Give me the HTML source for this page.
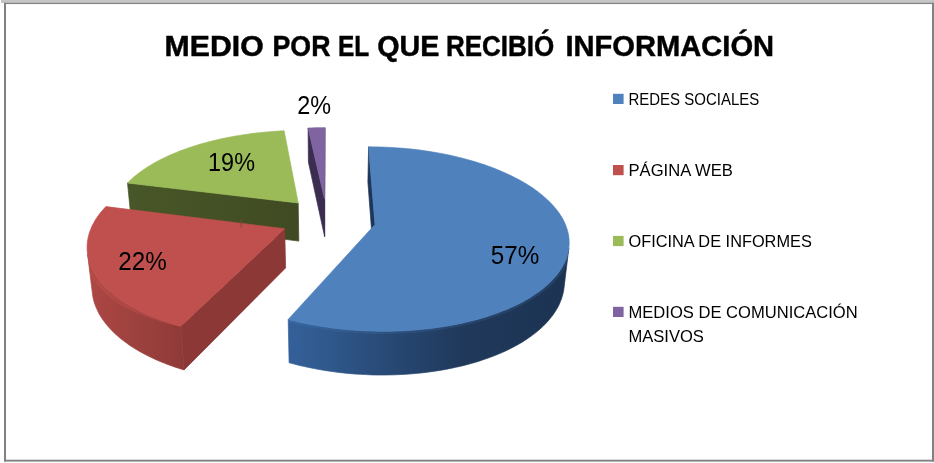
<!DOCTYPE html>
<html lang="es"><head><meta charset="utf-8"><title>Medio por el que recibió información</title>
<style>
html,body{margin:0;padding:0;background:#fff;}
body{width:934px;height:463px;overflow:hidden;font-family:"Liberation Sans",Arial,sans-serif;}
svg{display:block;}
svg text{font-family:"Liberation Sans",Arial,sans-serif;fill:#000;}
</style></head><body>
<svg width="934" height="463" viewBox="0 0 934 463">
<defs>
<linearGradient id="gb" gradientUnits="userSpaceOnUse" x1="288" y1="0" x2="569" y2="0">
<stop offset="0" stop-color="#34609a"/><stop offset="0.15" stop-color="#2f588b"/><stop offset="0.4" stop-color="#264670"/><stop offset="0.62" stop-color="#20395b"/><stop offset="1" stop-color="#1c3352"/>
</linearGradient>
<linearGradient id="gr" gradientUnits="userSpaceOnUse" x1="87" y1="0" x2="186" y2="0">
<stop offset="0" stop-color="#ad4744"/><stop offset="0.5" stop-color="#9d413e"/><stop offset="1" stop-color="#8f3a38"/>
</linearGradient>
<linearGradient id="gg" gradientUnits="userSpaceOnUse" x1="128" y1="0" x2="298" y2="0">
<stop offset="0" stop-color="#485727"/><stop offset="1" stop-color="#404a23"/>
</linearGradient>
<clipPath id="cwr"><path d="M180.7 326.3 L175.7 324.9 L170.9 323.4 L166.1 321.8 L161.4 320.2 L156.9 318.5 L152.5 316.7 L148.2 314.9 L144.1 313.0 L140.0 311.0 L136.2 309.1 L132.4 307.0 L128.8 304.9 L125.4 302.8 L122.0 300.6 L118.9 298.4 L115.9 296.2 L113.0 293.9 L110.3 291.5 L107.7 289.2 L105.3 286.8 L103.0 284.4 L100.9 282.0 L98.9 279.5 L97.1 277.1 L95.5 274.6 L94.0 272.1 L92.6 269.6 L91.4 267.0 L90.4 264.5 L89.5 262.0 L88.7 259.5 L88.1 256.9 L87.6 254.4 L92.6 294.9 L93.0 297.5 L93.6 300.2 L94.4 302.8 L95.3 305.5 L96.4 308.1 L97.6 310.7 L98.9 313.4 L100.4 316.0 L102.0 318.6 L103.8 321.1 L105.8 323.7 L107.9 326.2 L110.1 328.7 L112.5 331.2 L115.0 333.7 L117.7 336.1 L120.5 338.5 L123.5 340.8 L126.6 343.1 L129.8 345.4 L133.2 347.6 L136.8 349.8 L140.5 351.9 L144.3 354.0 L148.2 356.0 L152.3 358.0 L156.5 359.9 L160.8 361.7 L165.2 363.5 L169.8 365.2 L174.5 366.9 L179.2 368.4 L184.1 369.9Z"/></clipPath>
<clipPath id="cwb"><path d="M568.8 248.5 L568.4 251.0 L567.8 253.4 L567.1 255.9 L566.3 258.4 L565.3 260.8 L564.2 263.3 L562.9 265.7 L561.5 268.2 L560.0 270.6 L558.2 273.0 L556.4 275.4 L554.3 277.8 L552.2 280.1 L549.9 282.5 L547.4 284.8 L544.8 287.0 L542.0 289.3 L539.1 291.5 L536.1 293.6 L532.8 295.8 L529.5 297.9 L526.0 299.9 L522.4 301.9 L518.6 303.9 L514.7 305.8 L510.7 307.6 L506.6 309.4 L502.3 311.1 L497.9 312.8 L493.3 314.4 L488.7 316.0 L484.0 317.5 L479.1 318.9 L474.1 320.3 L469.1 321.5 L463.9 322.7 L458.7 323.9 L453.3 324.9 L447.9 325.9 L442.4 326.8 L436.9 327.6 L431.3 328.4 L425.6 329.0 L419.9 329.6 L414.1 330.1 L408.3 330.5 L402.5 330.8 L396.6 331.0 L390.7 331.2 L384.8 331.2 L378.9 331.2 L373.0 331.1 L367.1 330.9 L361.2 330.6 L355.3 330.2 L349.4 329.8 L343.6 329.2 L337.8 328.6 L332.1 327.9 L326.3 327.1 L320.7 326.2 L315.1 325.3 L309.6 324.3 L304.1 323.2 L298.7 322.0 L293.4 320.7 L288.2 319.4 L289.1 362.7 L294.2 364.1 L299.4 365.4 L304.7 366.6 L310.0 367.7 L315.4 368.8 L320.9 369.8 L326.4 370.7 L332.0 371.5 L337.6 372.3 L343.2 372.9 L348.9 373.5 L354.7 374.0 L360.4 374.3 L366.2 374.6 L371.9 374.9 L377.7 375.0 L383.5 375.0 L389.3 374.9 L395.0 374.8 L400.8 374.5 L406.5 374.2 L412.1 373.8 L417.8 373.3 L423.4 372.7 L428.9 372.0 L434.4 371.2 L439.8 370.4 L445.2 369.5 L450.5 368.4 L455.7 367.3 L460.8 366.2 L465.9 364.9 L470.8 363.6 L475.7 362.2 L480.4 360.7 L485.1 359.1 L489.6 357.5 L494.1 355.8 L498.4 354.1 L502.6 352.3 L506.7 350.4 L510.6 348.5 L514.4 346.5 L518.1 344.5 L521.7 342.4 L525.1 340.2 L528.4 338.1 L531.5 335.8 L534.5 333.6 L537.4 331.3 L540.1 328.9 L542.7 326.6 L545.1 324.2 L547.4 321.8 L549.5 319.3 L551.5 316.8 L553.4 314.3 L555.1 311.8 L556.6 309.3 L558.1 306.7 L559.3 304.2 L560.4 301.6 L561.4 299.0 L562.2 296.5 L562.9 293.9 L563.5 291.3 L563.9 288.7Z"/></clipPath>
</defs>
<rect x="0" y="0" width="934" height="463" fill="#fff"/>
<rect x="1" y="0" width="933" height="3" fill="#c6c6c6"/>
<g fill="#828282"><rect x="4" y="2.8" width="930" height="1.25"/><rect x="4" y="2.8" width="2" height="458.8"/><rect x="932" y="2.8" width="2" height="458.8"/><rect x="4" y="459.7" width="930" height="1.9"/></g>
<g id="pie">
<path d="M298.2 203.0 L127.5 183.0 L131.2 220.0 L298.8 241.1Z" fill="url(#gg)" stroke="url(#gg)" stroke-width="0.7" stroke-linejoin="round"/>
<path d="M298.2 203.0 L127.5 183.0 L129.4 181.1 L131.4 179.2 L133.5 177.3 L135.7 175.5 L138.0 173.7 L140.3 171.9 L142.8 170.2 L145.3 168.5 L147.9 166.8 L150.6 165.2 L153.3 163.5 L156.1 162.0 L159.0 160.4 L161.9 158.9 L165.0 157.5 L168.0 156.0 L171.2 154.6 L174.4 153.3 L177.6 151.9 L180.9 150.6 L184.3 149.4 L187.7 148.2 L191.2 147.0 L194.7 145.9 L198.2 144.8 L201.8 143.7 L205.5 142.7 L209.1 141.7 L212.9 140.8 L216.6 139.9 L220.4 139.0 L224.2 138.2 L228.1 137.4 L231.9 136.7 L235.8 136.0 L239.8 135.4 L243.7 134.7 L247.7 134.2 L251.7 133.6 L255.7 133.1 L259.7 132.7 L263.7 132.3 L267.8 131.9 L271.9 131.6 L275.9 131.3 L280.0 131.0 L284.1 130.8Z" fill="#9bbb59" stroke="#9bbb59" stroke-width="0.7" stroke-linejoin="round"/>
<path d="M324.5 198.8 L308.1 128.0 L308.4 162.1 L324.6 236.6Z" fill="#3b2d50" stroke="#3b2d50" stroke-width="0.7" stroke-linejoin="round"/>
<path d="M324.5 198.8 L324.9 127.7 L324.9 161.8 L324.6 236.6Z" fill="#3b2d50" stroke="#3b2d50" stroke-width="0.7" stroke-linejoin="round"/>
<path d="M324.5 198.8 L308.1 128.0 L311.4 127.9 L314.8 127.8 L318.2 127.7 L321.5 127.7 L324.9 127.7Z" fill="#8064a2" stroke="#8064a2" stroke-width="0.7" stroke-linejoin="round"/>
<path d="M284.7 228.7 L180.7 326.3 L184.1 369.9 L285.6 267.9Z" fill="#8b3836" stroke="#8b3836" stroke-width="0.7" stroke-linejoin="round"/>
<path d="M180.7 326.3 L175.7 324.9 L170.9 323.4 L166.1 321.8 L161.4 320.2 L156.9 318.5 L152.5 316.7 L148.2 314.9 L144.1 313.0 L140.0 311.0 L136.2 309.1 L132.4 307.0 L128.8 304.9 L125.4 302.8 L122.0 300.6 L118.9 298.4 L115.9 296.2 L113.0 293.9 L110.3 291.5 L107.7 289.2 L105.3 286.8 L103.0 284.4 L100.9 282.0 L98.9 279.5 L97.1 277.1 L95.5 274.6 L94.0 272.1 L92.6 269.6 L91.4 267.0 L90.4 264.5 L89.5 262.0 L88.7 259.5 L88.1 256.9 L87.6 254.4 L92.6 294.9 L93.0 297.5 L93.6 300.2 L94.4 302.8 L95.3 305.5 L96.4 308.1 L97.6 310.7 L98.9 313.4 L100.4 316.0 L102.0 318.6 L103.8 321.1 L105.8 323.7 L107.9 326.2 L110.1 328.7 L112.5 331.2 L115.0 333.7 L117.7 336.1 L120.5 338.5 L123.5 340.8 L126.6 343.1 L129.8 345.4 L133.2 347.6 L136.8 349.8 L140.5 351.9 L144.3 354.0 L148.2 356.0 L152.3 358.0 L156.5 359.9 L160.8 361.7 L165.2 363.5 L169.8 365.2 L174.5 366.9 L179.2 368.4 L184.1 369.9Z" fill="url(#gr)" stroke="url(#gr)" stroke-width="0.7" stroke-linejoin="round"/>
<path d="M180.7 326.3 L175.7 324.9 L170.9 323.4 L166.1 321.8 L161.4 320.2 L156.9 318.5 L152.5 316.7 L148.2 314.9 L144.1 313.0 L140.0 311.0 L136.2 309.1 L132.4 307.0 L128.8 304.9 L125.4 302.8 L122.0 300.6 L118.9 298.4 L115.9 296.2 L113.0 293.9 L110.3 291.5 L107.7 289.2 L105.3 286.8 L103.0 284.4 L100.9 282.0 L98.9 279.5 L97.1 277.1 L95.5 274.6 L94.0 272.1 L92.6 269.6 L91.4 267.0 L90.4 264.5 L89.5 262.0 L88.7 259.5 L88.1 256.9 L87.6 254.4 L87.6 266.4 L88.1 268.9 L88.7 271.5 L89.5 274.0 L90.4 276.5 L91.4 278.3 L92.6 279.7 L94.0 281.4 L95.5 283.2 L97.1 285.1 L98.9 287.1 L100.9 289.1 L103.0 291.3 L105.3 293.4 L107.7 295.5 L110.3 297.7 L113.0 299.8 L115.9 302.0 L118.9 304.1 L122.0 306.0 L125.4 307.7 L128.8 309.5 L132.4 311.2 L136.2 312.9 L140.0 314.5 L144.1 316.1 L148.2 317.6 L152.5 319.1 L156.9 320.5 L161.4 321.9 L166.1 323.2 L170.9 324.4 L175.7 325.5 L180.7 326.3Z" fill="#c0504d" fill-opacity="0.42" clip-path="url(#cwr)"/>
<path d="M284.7 228.7 L180.7 326.3 L175.7 324.9 L170.9 323.4 L166.1 321.8 L161.4 320.2 L156.9 318.5 L152.5 316.7 L148.2 314.9 L144.1 313.0 L140.0 311.0 L136.2 309.1 L132.4 307.0 L128.8 304.9 L125.4 302.8 L122.0 300.6 L118.9 298.4 L115.9 296.2 L113.0 293.9 L110.3 291.5 L107.7 289.2 L105.3 286.8 L103.0 284.4 L100.9 282.0 L98.9 279.5 L97.1 277.1 L95.5 274.6 L94.0 272.1 L92.6 269.6 L91.4 267.0 L90.4 264.5 L89.5 262.0 L88.7 259.5 L88.1 256.9 L87.6 254.4 L87.3 251.9 L87.1 249.3 L87.1 246.8 L87.2 244.3 L87.4 241.8 L87.8 239.3 L88.3 236.9 L88.9 234.4 L89.7 232.0 L90.6 229.5 L91.6 227.1 L92.7 224.7 L94.0 222.4 L95.3 220.0 L96.8 217.7 L98.4 215.4 L100.1 213.2 L101.9 211.0 L103.9 208.8 L105.9 206.6Z" fill="#c0504d" stroke="#c0504d" stroke-width="0.7" stroke-linejoin="round"/>
<path d="M375.0 224.5 L368.6 146.8 L367.9 182.0 L374.1 263.6Z" fill="#1d3557" stroke="#1d3557" stroke-width="0.7" stroke-linejoin="round"/>
<path d="M568.8 248.5 L568.4 251.0 L567.8 253.4 L567.1 255.9 L566.3 258.4 L565.3 260.8 L564.2 263.3 L562.9 265.7 L561.5 268.2 L560.0 270.6 L558.2 273.0 L556.4 275.4 L554.3 277.8 L552.2 280.1 L549.9 282.5 L547.4 284.8 L544.8 287.0 L542.0 289.3 L539.1 291.5 L536.1 293.6 L532.8 295.8 L529.5 297.9 L526.0 299.9 L522.4 301.9 L518.6 303.9 L514.7 305.8 L510.7 307.6 L506.6 309.4 L502.3 311.1 L497.9 312.8 L493.3 314.4 L488.7 316.0 L484.0 317.5 L479.1 318.9 L474.1 320.3 L469.1 321.5 L463.9 322.7 L458.7 323.9 L453.3 324.9 L447.9 325.9 L442.4 326.8 L436.9 327.6 L431.3 328.4 L425.6 329.0 L419.9 329.6 L414.1 330.1 L408.3 330.5 L402.5 330.8 L396.6 331.0 L390.7 331.2 L384.8 331.2 L378.9 331.2 L373.0 331.1 L367.1 330.9 L361.2 330.6 L355.3 330.2 L349.4 329.8 L343.6 329.2 L337.8 328.6 L332.1 327.9 L326.3 327.1 L320.7 326.2 L315.1 325.3 L309.6 324.3 L304.1 323.2 L298.7 322.0 L293.4 320.7 L288.2 319.4 L289.1 362.7 L294.2 364.1 L299.4 365.4 L304.7 366.6 L310.0 367.7 L315.4 368.8 L320.9 369.8 L326.4 370.7 L332.0 371.5 L337.6 372.3 L343.2 372.9 L348.9 373.5 L354.7 374.0 L360.4 374.3 L366.2 374.6 L371.9 374.9 L377.7 375.0 L383.5 375.0 L389.3 374.9 L395.0 374.8 L400.8 374.5 L406.5 374.2 L412.1 373.8 L417.8 373.3 L423.4 372.7 L428.9 372.0 L434.4 371.2 L439.8 370.4 L445.2 369.5 L450.5 368.4 L455.7 367.3 L460.8 366.2 L465.9 364.9 L470.8 363.6 L475.7 362.2 L480.4 360.7 L485.1 359.1 L489.6 357.5 L494.1 355.8 L498.4 354.1 L502.6 352.3 L506.7 350.4 L510.6 348.5 L514.4 346.5 L518.1 344.5 L521.7 342.4 L525.1 340.2 L528.4 338.1 L531.5 335.8 L534.5 333.6 L537.4 331.3 L540.1 328.9 L542.7 326.6 L545.1 324.2 L547.4 321.8 L549.5 319.3 L551.5 316.8 L553.4 314.3 L555.1 311.8 L556.6 309.3 L558.1 306.7 L559.3 304.2 L560.4 301.6 L561.4 299.0 L562.2 296.5 L562.9 293.9 L563.5 291.3 L563.9 288.7Z" fill="url(#gb)" stroke="url(#gb)" stroke-width="0.7" stroke-linejoin="round"/>
<path d="M568.8 248.5 L568.4 251.0 L567.8 253.4 L567.1 255.9 L566.3 258.4 L565.3 260.8 L564.2 263.3 L562.9 265.7 L561.5 268.2 L560.0 270.6 L558.2 273.0 L556.4 275.4 L554.3 277.8 L552.2 280.1 L549.9 282.5 L547.4 284.8 L544.8 287.0 L542.0 289.3 L539.1 291.5 L536.1 293.6 L532.8 295.8 L529.5 297.9 L526.0 299.9 L522.4 301.9 L518.6 303.9 L514.7 305.8 L510.7 307.6 L506.6 309.4 L502.3 311.1 L497.9 312.8 L493.3 314.4 L488.7 316.0 L484.0 317.5 L479.1 318.9 L474.1 320.3 L469.1 321.5 L463.9 322.7 L458.7 323.9 L453.3 324.9 L447.9 325.9 L442.4 326.8 L436.9 327.6 L431.3 328.4 L425.6 329.0 L419.9 329.6 L414.1 330.1 L408.3 330.5 L402.5 330.8 L396.6 331.0 L390.7 331.2 L384.8 331.2 L378.9 331.2 L373.0 331.1 L367.1 330.9 L361.2 330.6 L355.3 330.2 L349.4 329.8 L343.6 329.2 L337.8 328.6 L332.1 327.9 L326.3 327.1 L320.7 326.2 L315.1 325.3 L309.6 324.3 L304.1 323.2 L298.7 322.0 L293.4 320.7 L288.2 319.4 L288.2 322.3 L293.4 323.6 L298.7 324.8 L304.1 326.0 L309.6 327.1 L315.1 328.1 L320.7 329.1 L326.3 329.9 L332.1 330.7 L337.8 331.4 L343.6 332.0 L349.4 332.6 L355.3 333.0 L361.2 333.4 L367.1 333.7 L373.0 333.9 L378.9 334.0 L384.8 334.0 L390.7 334.0 L396.6 333.8 L402.5 333.6 L408.3 333.3 L414.1 332.9 L419.9 332.4 L425.6 331.8 L431.3 331.2 L436.9 330.5 L442.4 329.6 L447.9 328.8 L453.3 327.8 L458.7 326.7 L463.9 325.6 L469.1 324.4 L474.1 323.2 L479.1 321.8 L484.0 320.4 L488.7 318.9 L493.3 317.4 L497.9 315.8 L502.3 314.2 L506.6 312.4 L510.7 310.7 L514.7 308.9 L518.6 307.0 L522.4 305.1 L526.0 303.1 L529.5 301.1 L532.8 299.1 L536.1 297.0 L539.1 294.9 L542.0 292.8 L544.8 290.7 L547.4 288.5 L549.9 286.4 L552.2 284.2 L554.3 282.0 L556.4 279.8 L558.2 277.7 L560.0 275.6 L561.5 273.5 L562.9 271.6 L564.2 269.3 L565.3 266.8 L566.3 264.4 L567.1 261.9 L567.8 259.4 L568.4 257.0 L568.8 254.5Z" fill="#4f81bd" fill-opacity="0.17" clip-path="url(#cwb)"/>
<path d="M375.0 224.5 L368.6 146.8 L372.9 146.9 L377.2 146.9 L381.5 147.1 L385.8 147.2 L390.1 147.4 L394.4 147.7 L398.7 148.0 L403.0 148.3 L407.2 148.7 L411.5 149.1 L415.7 149.6 L420.0 150.1 L424.2 150.7 L428.4 151.3 L432.5 152.0 L436.7 152.7 L440.8 153.4 L444.9 154.2 L449.0 155.1 L453.0 156.0 L457.0 156.9 L461.0 157.9 L464.9 158.9 L468.8 160.0 L472.7 161.1 L476.5 162.2 L480.2 163.4 L484.0 164.6 L487.6 165.9 L491.3 167.2 L494.8 168.6 L498.3 170.0 L501.8 171.5 L505.2 173.0 L508.5 174.5 L511.8 176.1 L515.0 177.7 L518.2 179.3 L521.2 181.0 L524.2 182.7 L527.2 184.5 L530.0 186.3 L532.8 188.1 L535.5 190.0 L538.1 191.9 L540.6 193.9 L543.0 195.9 L545.3 197.9 L547.6 199.9 L549.7 202.0 L551.7 204.1 L553.7 206.2 L555.5 208.4 L557.3 210.6 L558.9 212.8 L560.4 215.1 L561.8 217.3 L563.1 219.6 L564.3 222.0 L565.3 224.3 L566.2 226.7 L567.0 229.0 L567.7 231.4 L568.3 233.8 L568.7 236.3 L569.0 238.7 L569.1 241.1 L569.2 243.6 L569.0 246.0 L568.8 248.5 L568.4 251.0 L567.8 253.4 L567.1 255.9 L566.3 258.4 L565.3 260.8 L564.2 263.3 L562.9 265.7 L561.5 268.2 L560.0 270.6 L558.2 273.0 L556.4 275.4 L554.3 277.8 L552.2 280.1 L549.9 282.5 L547.4 284.8 L544.8 287.0 L542.0 289.3 L539.1 291.5 L536.1 293.6 L532.8 295.8 L529.5 297.9 L526.0 299.9 L522.4 301.9 L518.6 303.9 L514.7 305.8 L510.7 307.6 L506.6 309.4 L502.3 311.1 L497.9 312.8 L493.3 314.4 L488.7 316.0 L484.0 317.5 L479.1 318.9 L474.1 320.3 L469.1 321.5 L463.9 322.7 L458.7 323.9 L453.3 324.9 L447.9 325.9 L442.4 326.8 L436.9 327.6 L431.3 328.4 L425.6 329.0 L419.9 329.6 L414.1 330.1 L408.3 330.5 L402.5 330.8 L396.6 331.0 L390.7 331.2 L384.8 331.2 L378.9 331.2 L373.0 331.1 L367.1 330.9 L361.2 330.6 L355.3 330.2 L349.4 329.8 L343.6 329.2 L337.8 328.6 L332.1 327.9 L326.3 327.1 L320.7 326.2 L315.1 325.3 L309.6 324.3 L304.1 323.2 L298.7 322.0 L293.4 320.7 L288.2 319.4Z" fill="#4f81bd" stroke="#4f81bd" stroke-width="0.7" stroke-linejoin="round"/>
<path d="M241.2 219V227.6" stroke="#7a4a34" stroke-width="1.3" stroke-opacity="0.75" fill="none"/>
</g>
<g id="legend"><rect x="613" y="93.8" width="10.6" height="10.2" fill="#4f81bd"/><rect x="613" y="165.0" width="10.6" height="10.2" fill="#c0504d"/><rect x="613" y="235.9" width="10.6" height="10.2" fill="#9bbb59"/><rect x="613" y="306.8" width="10.6" height="10.2" fill="#8064a2"/></g>
<g id="labels" style="will-change:transform">
<text x="164.6" y="55.6" font-size="28.6" font-weight="700" stroke="#000" stroke-width="0.45" textLength="99.1" lengthAdjust="spacingAndGlyphs">MEDIO</text>
<text x="272.5" y="55.6" font-size="28.6" font-weight="700" stroke="#000" stroke-width="0.45" textLength="58.0" lengthAdjust="spacingAndGlyphs">POR</text>
<text x="337.9" y="55.6" font-size="28.6" font-weight="700" stroke="#000" stroke-width="0.45" textLength="31.3" lengthAdjust="spacingAndGlyphs">EL</text>
<text x="377.3" y="55.6" font-size="28.6" font-weight="700" stroke="#000" stroke-width="0.45" textLength="62.2" lengthAdjust="spacingAndGlyphs">QUE</text>
<text x="445.9" y="55.6" font-size="28.6" font-weight="700" stroke="#000" stroke-width="0.45" textLength="108.3" lengthAdjust="spacingAndGlyphs">RECIBIÓ</text>
<text x="565.4" y="55.6" font-size="28.6" font-weight="700" stroke="#000" stroke-width="0.45" textLength="208.7" lengthAdjust="spacingAndGlyphs">INFORMACIÓN</text>
<text x="490.8" y="263.9" font-size="25.2" textLength="48.5" lengthAdjust="spacingAndGlyphs">57%</text>
<text x="118.2" y="270.3" font-size="25.2" textLength="48.5" lengthAdjust="spacingAndGlyphs">22%</text>
<text x="208.1" y="171.2" font-size="25.2" textLength="46.9" lengthAdjust="spacingAndGlyphs">19%</text>
<text x="297.3" y="113.8" font-size="25.2" textLength="33.8" lengthAdjust="spacingAndGlyphs">2%</text>
<text x="628.5" y="104.5" font-size="16.6" textLength="130.7" lengthAdjust="spacingAndGlyphs">REDES SOCIALES</text>
<text x="628.5" y="175.5" font-size="16.6" textLength="104.3" lengthAdjust="spacingAndGlyphs">PÁGINA WEB</text>
<text x="628.5" y="247.0" font-size="16.6" textLength="183.3" lengthAdjust="spacingAndGlyphs">OFICINA DE INFORMES</text>
<text x="628.5" y="318.3" font-size="16.6" textLength="229.2" lengthAdjust="spacingAndGlyphs">MEDIOS DE COMUNICACIÓN</text>
<text x="628.5" y="342.0" font-size="16.6" textLength="75.4" lengthAdjust="spacingAndGlyphs">MASIVOS</text>
</g>
</svg>
</body></html>
